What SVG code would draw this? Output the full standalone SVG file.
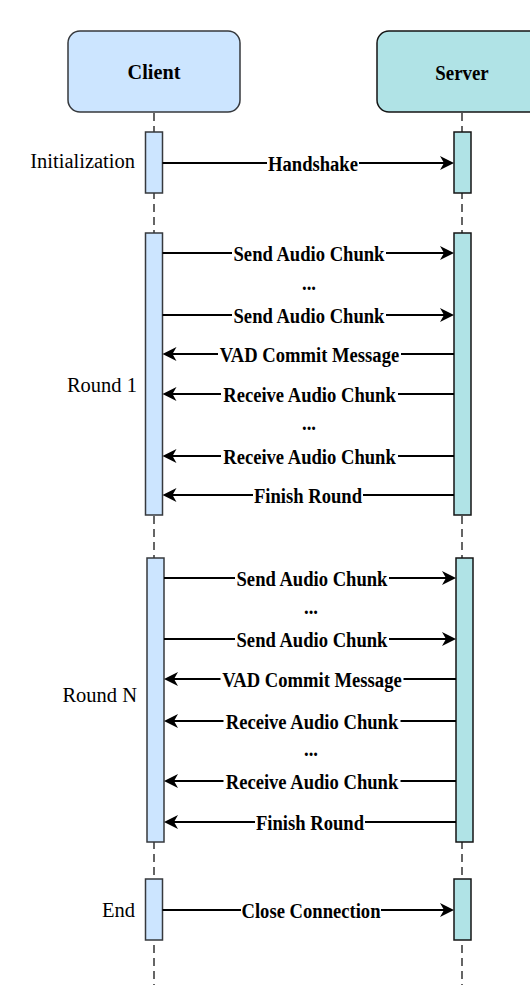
<svg xmlns="http://www.w3.org/2000/svg" width="530" height="995" viewBox="0 0 530 995">
<style>
.bg{fill:#ffffff}
.life{stroke:#333333;stroke-width:1.5;stroke-dasharray:8 5;fill:none}
.cbox{fill:#cce5ff;stroke:#36393d;stroke-width:1.5}
.sbox{fill:#b0e3e6;stroke:#151515;stroke-width:1.5}
.msg{stroke:#000;stroke-width:2;fill:none;marker-end:url(#ah)}
.lb{fill:#ffffff}
</style>
<defs>
<marker id="ah" viewBox="-11 -8 16 16" markerWidth="16" markerHeight="16" refX="0" refY="0" orient="auto" markerUnits="userSpaceOnUse">
<path d="M4,0 L-10,-7 L-6,0 L-10,7 Z" fill="#000"/>
</marker>
</defs>
<rect class="bg" x="0" y="0" width="530" height="995"/>

<g id="lifelines">
<line class="life" x1="154" y1="113" x2="154" y2="985"/>
<line class="life" x1="462" y1="113" x2="462" y2="985"/>
</g>

<g id="client">
<rect class="cbox" x="68" y="31" width="172" height="81" rx="12" ry="12"/>
<text font-family="Liberation Serif" font-weight="bold" font-size="22" text-anchor="middle" transform="translate(154 79) scale(0.92 1)">Client</text>
</g>
<g id="server">
<rect class="sbox" x="377" y="31" width="172" height="81" rx="12" ry="12"/>
<text font-family="Liberation Serif" font-weight="bold" font-size="21" text-anchor="middle" transform="translate(462 80) scale(0.9 1)">Server</text>
</g>

<g id="activations">
<rect class="cbox" x="145.5" y="132" width="17" height="61"/>
<rect class="sbox" x="454" y="132" width="17" height="61"/>
<rect class="cbox" x="145.5" y="233" width="17" height="282"/>
<rect class="sbox" x="454" y="233" width="17" height="282"/>
<rect class="cbox" x="147" y="558" width="17" height="284"/>
<rect class="sbox" x="456" y="558" width="17" height="284"/>
<rect class="cbox" x="145.5" y="879" width="17" height="61"/>
<rect class="sbox" x="454" y="879" width="17" height="61"/>
</g>

<g id="phase-labels" font-family="Liberation Serif" font-size="20.5" text-anchor="end">
<text x="135" y="168">Initialization</text>
<text x="137" y="392">Round 1</text>
<text x="137" y="702">Round N</text>
<text x="135" y="917">End</text>
</g>

<g id="connectors">
<line class="msg" x1="162.5" y1="163" x2="450" y2="163"/>
<line class="msg" x1="162.5" y1="253" x2="450" y2="253"/>
<line class="msg" x1="162.5" y1="315" x2="450" y2="315"/>
<line class="msg" x1="454" y1="354" x2="166.5" y2="354"/>
<line class="msg" x1="454" y1="394" x2="166.5" y2="394"/>
<line class="msg" x1="454" y1="456" x2="166.5" y2="456"/>
<line class="msg" x1="454" y1="495" x2="166.5" y2="495"/>
<line class="msg" x1="164" y1="578" x2="452" y2="578"/>
<line class="msg" x1="164" y1="639" x2="452" y2="639"/>
<line class="msg" x1="456" y1="679" x2="168" y2="679"/>
<line class="msg" x1="456" y1="721" x2="168" y2="721"/>
<line class="msg" x1="456" y1="781" x2="168" y2="781"/>
<line class="msg" x1="456" y1="822" x2="168" y2="822"/>
<line class="msg" x1="162.5" y1="910" x2="450" y2="910"/>
</g>

<g id="message-labels" font-family="Liberation Serif" font-weight="bold" font-size="21" text-anchor="middle">
<rect class="lb" x="267" y="154" width="92" height="18"/>
<text transform="translate(313 171) scale(0.886 1)">Handshake</text>

<rect class="lb" x="232" y="244" width="154" height="18"/>
<text transform="translate(309 261) scale(0.886 1)">Send Audio Chunk</text>
<text transform="translate(309 290) scale(0.886 1)">...</text>
<rect class="lb" x="232" y="306" width="154" height="18"/>
<text transform="translate(309 323) scale(0.886 1)">Send Audio Chunk</text>
<rect class="lb" x="218" y="345" width="183" height="18"/>
<text transform="translate(309.5 362) scale(0.886 1)">VAD Commit Message</text>
<rect class="lb" x="221" y="385" width="177" height="18"/>
<text transform="translate(309.5 402) scale(0.886 1)">Receive Audio Chunk</text>
<text transform="translate(309 430) scale(0.886 1)">...</text>
<rect class="lb" x="221" y="447" width="177" height="18"/>
<text transform="translate(309.5 464) scale(0.886 1)">Receive Audio Chunk</text>
<rect class="lb" x="253" y="486" width="110" height="18"/>
<text transform="translate(308 503) scale(0.886 1)">Finish Round</text>

<rect class="lb" x="235" y="569" width="154" height="18"/>
<text transform="translate(312 586) scale(0.886 1)">Send Audio Chunk</text>
<text transform="translate(311 614) scale(0.886 1)">...</text>
<rect class="lb" x="235" y="630" width="154" height="18"/>
<text transform="translate(312 647) scale(0.886 1)">Send Audio Chunk</text>
<rect class="lb" x="220.5" y="670" width="183" height="18"/>
<text transform="translate(312 687) scale(0.886 1)">VAD Commit Message</text>
<rect class="lb" x="223.5" y="712" width="177" height="18"/>
<text transform="translate(312 729) scale(0.886 1)">Receive Audio Chunk</text>
<text transform="translate(311 756) scale(0.886 1)">...</text>
<rect class="lb" x="223.5" y="772" width="177" height="18"/>
<text transform="translate(312 789) scale(0.886 1)">Receive Audio Chunk</text>
<rect class="lb" x="255" y="813" width="110" height="18"/>
<text transform="translate(310 830) scale(0.886 1)">Finish Round</text>

<rect class="lb" x="241" y="901" width="140" height="18"/>
<text transform="translate(311 918) scale(0.886 1)">Close Connection</text>
</g>
</svg>
